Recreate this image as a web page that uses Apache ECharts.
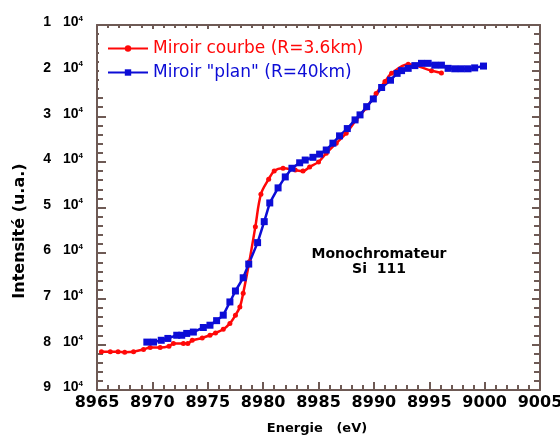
<!DOCTYPE html>
<html>
<head>
<meta charset="utf-8">
<script src="https://cdn.jsdelivr.net/npm/echarts@6/dist/echarts.min.js"></script>
<style>
  html, body { margin: 0; padding: 0; background: #ffffff; }
  #chart { width: 560px; height: 437px; }
</style>
</head>
<body>
<div id="chart"></div>
<script>
// Curved mirror scan (R = 3.6 km): energy in eV, intensity in counts
const curvedEnergy = [
  8965.4, 8966.2, 8966.9, 8967.5, 8968.3, 8969.2, 8969.8, 8970.7, 8971.5, 8971.9,
  8972.8, 8973.2, 8973.6, 8974.5, 8975.2, 8975.7, 8976.4, 8977.0, 8977.5, 8977.9,
  8978.2, 8978.75, 8979.3, 8979.8, 8980.5, 8981.0, 8981.8, 8982.9, 8983.6, 8984.2,
  8985.0, 8985.7, 8986.6, 8987.5, 8988.4, 8989.3, 8990.2, 8991.0, 8991.6, 8993.1,
  8995.2, 8996.1
];
const curvedIntensity = [
  81600, 81600, 81600, 81700, 81600, 81100, 80700, 80700, 80400, 79800,
  79800, 79800, 79100, 78600, 78000, 77500, 76700, 75400, 73600, 71800,
  68800, 61900, 54200, 47100, 43800, 42000, 41400, 41800, 42000, 41100,
  40000, 38100, 35900, 33700, 30800, 28200, 25000, 22400, 20600, 18600,
  20000, 20500
];

// "Flat" mirror scan (R = 40 km)
const flatEnergy = [
  8969.5, 8970.1, 8970.8, 8971.4, 8972.2, 8972.65, 8973.1, 8973.7, 8974.6, 8975.2,
  8975.8, 8976.4, 8977.0, 8977.5, 8978.2, 8978.7, 8979.5, 8980.1, 8980.6, 8981.35,
  8982.0, 8982.6, 8983.3, 8983.8, 8984.5, 8985.1, 8985.7, 8986.3, 8986.9, 8987.6,
  8988.3, 8988.75, 8989.35, 8989.95, 8990.7, 8991.5, 8992.1, 8992.5, 8993.1, 8993.7,
  8994.3, 8994.9, 8995.5, 8996.1, 8996.7, 8997.3, 8997.9, 8998.5, 8999.1, 8999.9
];
const flatIntensity = [
  79500, 79500, 79100, 78700, 78000, 78000, 77600, 77300, 76300, 75800,
  74800, 73600, 70700, 68300, 65400, 62400, 57700, 53100, 49000, 45700,
  43300, 41400, 40200, 39600, 39000, 38300, 37400, 35900, 34300, 32700,
  30800, 29700, 27900, 26200, 23700, 22100, 20600, 20000, 19500, 18900,
  18400, 18400, 18800, 18800, 19500, 19600, 19600, 19600, 19400, 19000
];

const seriesNames = ['Miroir courbe (R=3.6km)', 'Miroir "plan" (R=40km)'];
const seriesColors = ['#ff0808', '#0c0cd6'];

const xMin = 8965, xMax = 9005, xStep = 5;
const yMin = 10000, yMax = 90000, yStep = 10000;

const axisColor = '#6e5a55';
const wideBold = 'DejaVu Sans';
const arialLike = 'Liberation Sans';

const zip = (xs, ys) => xs.map((x, i) => [x, ys[i]]);

// Frame axis: the same scale drawn on all four sides, ticks pointing into the plot
function frameAxis(kind, position, tickLen, minorLen, extra) {
  const isX = kind === 'x';
  return Object.assign({
    type: 'value',
    position: position,
    min: isX ? xMin : yMin,
    max: isX ? xMax : yMax,
    interval: isX ? xStep : yStep,
    inverse: !isX,
    splitLine: { show: false },
    axisLine: { show: true, onZero: false, lineStyle: { color: axisColor, width: 2 } },
    axisTick: { show: true, inside: true, length: tickLen, lineStyle: { color: axisColor, width: 2 } },
    minorTick: { show: true, splitNumber: 5, length: minorLen, lineStyle: { color: axisColor, width: 2 } },
    axisLabel: { show: false }
  }, extra || {});
}

const chart = echarts.init(document.getElementById('chart'));

chart.setOption({
  animation: false,
  backgroundColor: '#ffffff',
  // fixed plot rectangle; labels may reach the canvas edge without shrinking it
  grid: { left: 97, right: 20, top: 25, bottom: 47, outerBoundsMode: 'none' },
  xAxis: [
    frameAxis('x', 'bottom', 8, 5, {
      axisLabel: {
        show: true, margin: 5, formatter: v => String(v),
        fontFamily: wideBold, fontWeight: 'bold', fontSize: 16, color: '#000'
      }
    }),
    frameAxis('x', 'top', 4, 3)
  ],
  yAxis: [
    frameAxis('y', 'left', 9, 6, {
      axisLabel: {
        show: true,
        margin: 14,
        padding: [0, 0, 5, 0],
        formatter: v => '{n|' + Math.round(v / 10000) + '}{b|10}{s|4}',
        rich: {
          n: { fontFamily: arialLike, fontWeight: 'bold', fontSize: 14, color: '#000', lineHeight: 16 },
          b: { fontFamily: arialLike, fontWeight: 'bold', fontSize: 14, color: '#000', lineHeight: 16, padding: [0, 0, 0, 12] },
          s: { fontFamily: arialLike, fontWeight: 'bold', fontSize: 8, color: '#000', lineHeight: 9, verticalAlign: 'top' }
        }
      }
    }),
    frameAxis('y', 'right', 8, 6)
  ],
  legend: {
    orient: 'vertical',
    left: 99,
    top: 31,
    padding: [9, 4, 10, 8],
    backgroundColor: '#ffffff',
    itemWidth: 40,
    itemHeight: 8,
    itemGap: 7,
    textStyle: { fontFamily: wideBold, fontSize: 17 },
    data: [
      { name: seriesNames[0], textStyle: { color: seriesColors[0] } },
      { name: seriesNames[1], textStyle: { color: seriesColors[1] } }
    ]
  },
  graphic: [
    {
      type: 'text',
      x: 20, y: 231,
      rotation: Math.PI / 2,
      style: {
        text: 'Intensité (u.a.)',
        fontFamily: wideBold, fontWeight: 'bold', fontSize: 16,
        fill: '#000', align: 'center', verticalAlign: 'middle'
      }
    },
    {
      type: 'text',
      x: 317, y: 429,
      style: {
        text: 'Energie   (eV)',
        fontFamily: wideBold, fontWeight: 'bold', fontSize: 13,
        fill: '#000', align: 'center', verticalAlign: 'middle'
      }
    },
    {
      type: 'text',
      x: 379, y: 262,
      style: {
        text: 'Monochromateur\nSi  111',
        fontFamily: wideBold, fontWeight: 'bold', fontSize: 14, lineHeight: 15,
        fill: '#000', align: 'center', verticalAlign: 'middle'
      }
    }
  ],
  series: [
    {
      name: seriesNames[0],
      type: 'line',
      data: zip(curvedEnergy, curvedIntensity),
      smooth: 0.35,
      symbol: 'circle',
      symbolSize: 5,
      showAllSymbol: true,
      lineStyle: { color: seriesColors[0], width: 2.5 },
      itemStyle: { color: seriesColors[0] }
    },
    {
      name: seriesNames[1],
      type: 'line',
      data: zip(flatEnergy, flatIntensity),
      symbol: 'rect',
      symbolSize: 7,
      showAllSymbol: true,
      lineStyle: { color: seriesColors[1], width: 2.5 },
      itemStyle: { color: seriesColors[1] }
    }
  ]
});
</script>
</body>
</html>
